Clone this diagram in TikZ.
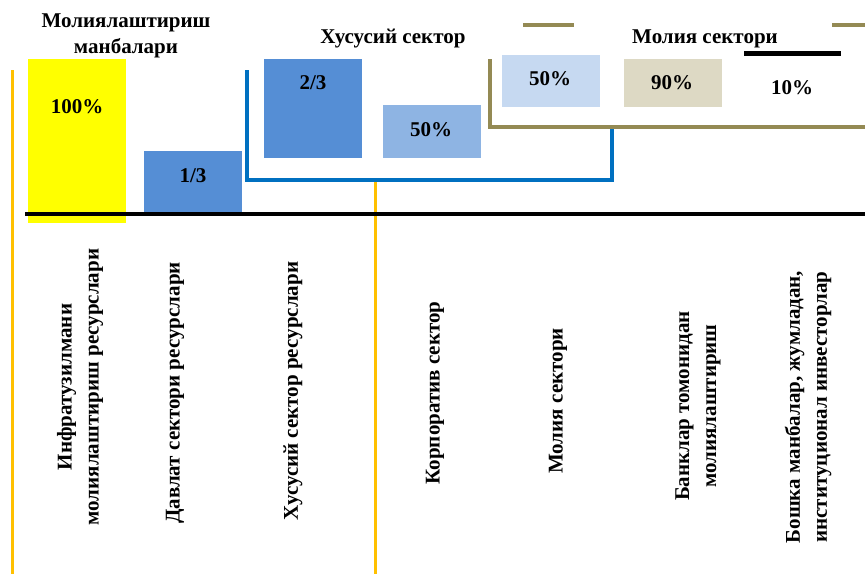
\documentclass[tikz,border=0pt]{standalone}
\usepackage{fontspec}
\setmainfont{Liberation Serif}
\begin{document}
\begin{tikzpicture}[x=1pt,y=-1pt,
  box/.style={draw=none,inner sep=0pt,anchor=north west},
  lbl/.style={font=\fontsize{21}{25}\selectfont\bfseries,inner sep=0pt},
  vlbl/.style={font=\fontsize{21}{27}\selectfont\bfseries,inner sep=0pt,rotate=90,align=center},
  orangeln/.style={draw=orangec,line width=3pt},
  blueln/.style={draw=bluec,line width=3.5pt},
  oliveln/.style={draw=olivec,line width=3.5pt},
  blackln/.style={draw=black,line width=3.5pt}]
\definecolor{yellowc}{HTML}{FFFF00}
\definecolor{orangec}{HTML}{FFC000}
\definecolor{boxblue}{HTML}{558ED5}
\definecolor{midblue}{HTML}{8EB4E3}
\definecolor{paleblue}{HTML}{C6D9F1}
\definecolor{tan}{HTML}{DDD9C4}
\definecolor{bluec}{HTML}{0070C0}
\definecolor{olivec}{HTML}{948A54}
\useasboundingbox (0,0) rectangle (865,574);

% boxes
\node[box,fill=yellowc,minimum width=98pt,minimum height=164pt] (b100) at (28,59) {};
\node[box,fill=boxblue,minimum width=98pt,minimum height=63pt] (b13) at (144,151) {};
\node[box,fill=boxblue,minimum width=98pt,minimum height=99pt] (b23) at (264,59) {};
\node[box,fill=midblue,minimum width=98pt,minimum height=53pt] (b50a) at (383,105) {};
\node[box,fill=paleblue,minimum width=98pt,minimum height=52pt] (b50b) at (502,55) {};
\node[box,fill=tan,minimum width=98pt,minimum height=48pt] (b90) at (624,59) {};

% box labels
\node[lbl] (t100) at (77,107) {100\%};
\node[lbl] (t13) at (193,176) {1/3};
\node[lbl] (t23) at (313,83) {2/3};
\node[lbl] (t50a) at (431,130) {50\%};
\node[lbl] (t50b) at (550,79) {50\%};
\node[lbl] (t90) at (672,83) {90\%};
\node[lbl] (t10) at (792,88) {10\%};

% titles
\node[lbl,align=center,font=\fontsize{21}{26}\selectfont\bfseries] (h1) at (126,36) {Молиялаштириш\\манбалари};
\node[lbl] (h2) at (393,39) {Хусусий сектор};
\node[lbl] (h3) at (705,39) {Молия сектори};

% lines
\coordinate (o1a) at (12,70);   \coordinate (o1b) at (12,574);
\coordinate (o2a) at (375,180); \coordinate (o2b) at (375,574);
\draw[orangeln] (o1a) -- (o1b);
\draw[orangeln] (o2a) -- (o2b);

\coordinate (bl1) at (247,70); \coordinate (bl2) at (247,180);
\coordinate (bl3) at (612,180); \coordinate (bl4) at (612,127);
\draw[blueln] (bl1) -- (bl2) -- (bl3) -- (bl4);

\coordinate (ol1) at (490,59); \coordinate (ol2) at (490,127); \coordinate (ol3) at (865,127);
\draw[oliveln] (ol1) -- (ol2) -- (ol3);
\coordinate (os1) at (523,25); \coordinate (os2) at (574,25);
\coordinate (os3) at (832,25); \coordinate (os4) at (865,25);
\draw[oliveln] (os1) -- (os2);
\draw[oliveln] (os3) -- (os4);

\coordinate (k1) at (744,53); \coordinate (k2) at (841,53);
\draw[draw=black,line width=5pt] (k1) -- (k2);

\coordinate (m1) at (25,214); \coordinate (m2) at (865,214);
\draw[blackln] (m1) -- (m2);

% vertical labels
\node[vlbl] (v1) at (80,387) {Инфратузилмани\\молиялаштириш ресурслари};
\node[vlbl] (v2) at (175,393) {Давлат сектори ресурслари};
\node[vlbl] (v3) at (293,391) {Хусусий сектор ресурслари};
\node[vlbl] (v4) at (435,393) {Корпоратив сектор};
\node[vlbl] (v5) at (558,401) {Молия сектори};
\node[vlbl] (v6) at (698,406) {Банклар томонидан\\молиялаштириш};
\node[vlbl] (v7) at (808,407) {Бошка манбалар, жумладан,\\институционал инвесторлар};
\end{tikzpicture}
\end{document}
